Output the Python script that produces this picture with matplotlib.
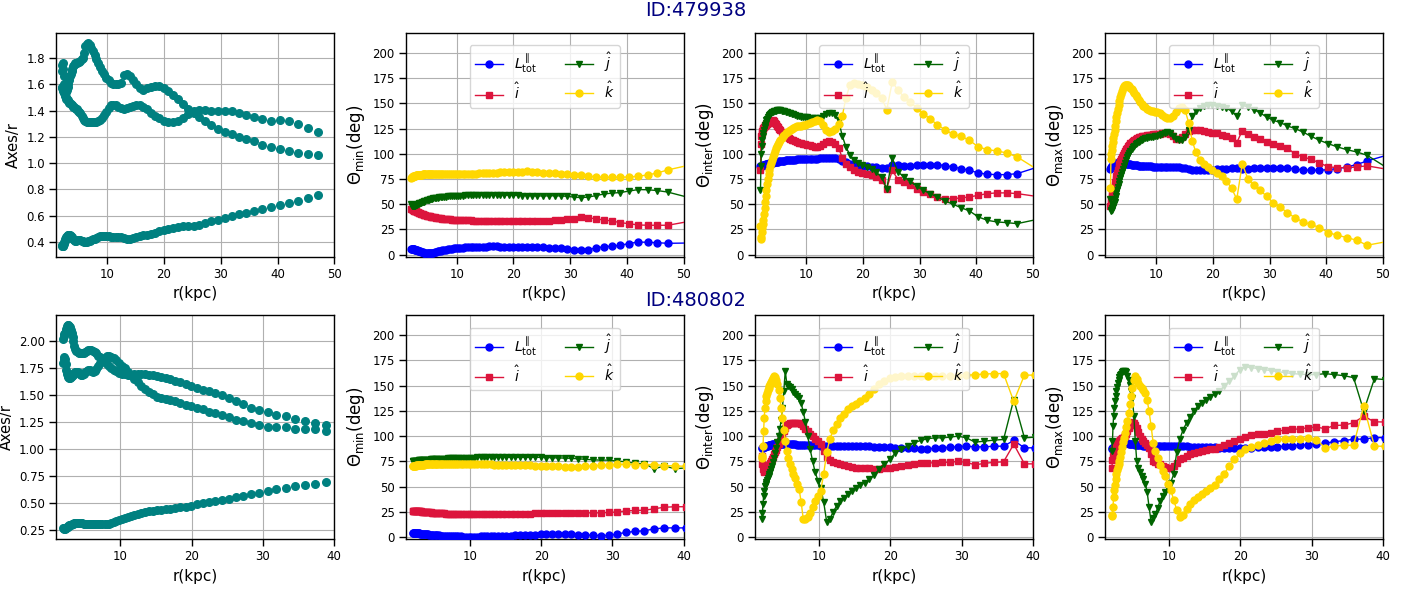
import matplotlib
matplotlib.use("Agg")
import matplotlib.pyplot as plt

# ---------------- data ----------------
R = [1.97, 2.05, 2.13, 2.21, 2.30, 2.39, 2.49, 2.59, 2.69, 2.80,
     2.91, 3.03, 3.15, 3.28, 3.41, 3.55, 3.69, 3.83, 3.99, 4.15,
     4.31, 4.49, 4.67, 4.85, 5.05, 5.25, 5.46, 5.68, 5.90, 6.14,
     6.39, 6.64, 6.91, 7.18, 7.47, 7.77, 8.08, 8.40, 8.74, 9.09,
     9.45, 9.83, 10.22, 10.63, 11.06, 11.50, 11.96, 12.44, 12.94, 13.45,
     13.99, 14.55, 15.13, 15.74, 16.37, 17.02, 17.71, 18.41, 19.15, 19.92,
     20.71, 21.54, 22.40, 23.30, 24.23, 25.20, 26.21, 27.26, 28.35, 29.48,
     30.66, 31.89, 33.16, 34.49, 35.87, 37.30, 38.80, 40.35, 41.96, 43.64,
     45.38, 47.20]
R_TOP_LINE = R + [52.0]     # last radius lies outside the plotted range
R_TOP_SCAT = R
R_BOT_LINE = R[:78]
R_BOT_SCAT = R[:77]

ids = ["ID:479938", "ID:480802"]
xlims = [50, 40]
xticks = [[10, 20, 30, 40, 50], [10, 20, 30, 40]]

# ---- galaxy 479938 ----
top_axes_a = [1.70, 1.75, 1.76, 1.72, 1.66, 1.60, 1.56, 1.55, 1.54, 1.55,
              1.56, 1.58, 1.60, 1.63, 1.66, 1.68, 1.70, 1.72, 1.74, 1.75,
              1.76, 1.76, 1.76, 1.77, 1.77, 1.78, 1.79, 1.80, 1.84, 1.89,
              1.91, 1.915, 1.90, 1.88, 1.85, 1.82, 1.79, 1.76, 1.73, 1.70,
              1.68, 1.65, 1.63, 1.61, 1.60, 1.60, 1.60, 1.61, 1.67, 1.68,
              1.66, 1.63, 1.60, 1.57, 1.56, 1.57, 1.58, 1.59, 1.585, 1.57,
              1.55, 1.52, 1.49, 1.45, 1.41, 1.38, 1.35, 1.32, 1.29, 1.26,
              1.24, 1.22, 1.20, 1.185, 1.165, 1.14, 1.12, 1.11, 1.095, 1.08,
              1.07, 1.062]
top_axes_b = [1.58, 1.57, 1.56, 1.55, 1.54, 1.53, 1.52, 1.51, 1.50, 1.49,
              1.485, 1.48, 1.47, 1.46, 1.455, 1.45, 1.445, 1.44, 1.43, 1.425,
              1.42, 1.415, 1.41, 1.40, 1.39, 1.38, 1.36, 1.345, 1.33, 1.32,
              1.315, 1.31, 1.31, 1.31, 1.315, 1.315, 1.315, 1.32, 1.33, 1.345,
              1.365, 1.39, 1.42, 1.44, 1.445, 1.44, 1.43, 1.42, 1.415, 1.42,
              1.43, 1.435, 1.44, 1.44, 1.43, 1.41, 1.385, 1.36, 1.34, 1.32,
              1.31, 1.31, 1.32, 1.34, 1.37, 1.395, 1.405, 1.405, 1.40, 1.40,
              1.40, 1.395, 1.385, 1.365, 1.35, 1.335, 1.32, 1.325, 1.32, 1.30,
              1.27, 1.24]
top_axes_c = [0.375, 0.37, 0.365, 0.37, 0.385, 0.40, 0.41, 0.42, 0.43, 0.44,
              0.448, 0.452, 0.455, 0.455, 0.452, 0.445, 0.438, 0.43, 0.42, 0.413,
              0.41, 0.41, 0.412, 0.415, 0.415, 0.413, 0.41, 0.405, 0.40, 0.40,
              0.40, 0.403, 0.408, 0.413, 0.418, 0.425, 0.432, 0.437, 0.442, 0.444,
              0.445, 0.445, 0.443, 0.44, 0.44, 0.44, 0.44, 0.435, 0.428, 0.422,
              0.425, 0.432, 0.44, 0.445, 0.45, 0.455, 0.462, 0.47, 0.48, 0.49,
              0.50, 0.508, 0.514, 0.518, 0.52, 0.522, 0.53, 0.545, 0.558, 0.57,
              0.583, 0.595, 0.61, 0.62, 0.635, 0.65, 0.668, 0.68, 0.693, 0.713,
              0.736, 0.76]

top_min_L = [5.5, 5.5, 5.5, 5.5, 5.4, 5.3, 5.2, 5.0, 4.8, 4.6,
             4.4, 4.2, 4.0, 3.7, 3.4, 3.1, 2.8, 2.5, 2.2, 2.0,
             1.8, 1.7, 1.6, 1.6, 1.6, 1.6, 1.7, 1.8, 2.0, 2.3,
             2.7, 3.1, 3.5, 3.9, 4.3, 4.6, 5.0, 5.3, 5.6, 5.9,
             6.1, 6.4, 6.6, 6.8, 7.0, 7.2, 7.4, 7.6, 7.7, 7.8,
             7.9, 8.0, 8.0, 8.1, 8.1, 8.1, 8.0, 8.0, 8.0, 7.9,
             7.9, 7.8, 7.7, 7.6, 7.4, 7.1, 6.8, 6.5, 6.2, 5.6,
             4.7, 4.4, 5.0, 6.5, 7.8, 8.4, 9.2, 11.0, 12.5, 12.2,
             11.8, 11.2, 11.6]
top_min_i = [45, 45, 44.8, 44.5, 44.2, 44, 43.7, 43.4, 43.1, 42.8,
             42.5, 42.2, 42, 41.6, 41.3, 41, 40.6, 40.3, 40, 39.6,
             39.3, 39, 38.7, 38.4, 38, 37.8, 37.5, 37.2, 37, 36.8,
             36.6, 36.4, 36.2, 36, 35.8, 35.6, 35.4, 35.2, 35, 34.8,
             34.6, 34.5, 34.4, 34.3, 34.2, 34.1, 34, 33.9, 33.8, 33.7,
             33.6, 33.5, 33.5, 33.4, 33.4, 33.4, 33.4, 33.4, 33.4, 33.4,
             33.4, 33.4, 33.5, 33.5, 33.6, 33.7, 33.8, 34, 34.3, 35,
             35.7, 37, 36.7, 35.4, 34.4, 33.4, 31.7, 30.7, 29.4, 29.1,
             29.1, 29.1, 34]
top_min_j = [50, 49, 48.5, 48, 48, 48, 48.5, 48.5, 49, 49,
             49.5, 50, 50, 50.5, 51, 51, 51.5, 52, 52.5, 52.5,
             53, 53.5, 54, 54.5, 54.5, 55, 55.5, 55.5, 56, 56,
             56.5, 56.5, 57, 57, 57.2, 57.4, 57.6, 57.8, 58, 58,
             58.2, 58.3, 58.4, 58.5, 58.6, 58.7, 58.8, 58.9, 59, 59,
             59, 59, 59, 59, 59, 59, 59, 59, 59, 58.8,
             58.7, 58.6, 58.5, 58.4, 58.2, 58.2, 58.3, 58.4, 58.2, 57.8,
             57, 56.5, 57, 58.5, 60, 61, 61.5, 63, 64.5, 64.3,
             63.5, 62, 55]
top_min_k = [76, 76.5, 77, 77, 77.5, 77.5, 78, 78, 78, 78.5,
             78.5, 78.5, 79, 79, 79, 79, 79, 79, 79.5, 79.5,
             79.5, 79.5, 79.5, 79.5, 80, 80, 80, 80, 80, 80,
             80, 80, 80, 80, 80, 80, 80, 79.8, 79.7, 79.6,
             79.5, 79.5, 79.5, 79.6, 79.7, 79.8, 80, 80, 80.2, 80.3,
             80.5, 80.6, 80.8, 81, 81.2, 81.4, 81.5, 81.7, 82, 82,
             82, 82.3, 82.6, 82, 81.7, 81.3, 81, 81, 80.3, 79.7,
             79.3, 78.7, 78, 77, 76.7, 76.7, 76.7, 77, 77.7, 79,
             81, 84, 90]

top_int_L = [88, 88, 88, 88, 88.2, 88.4, 88.6, 88.8, 89, 89.2,
             89.4, 89.6, 89.8, 90, 90.2, 90.4, 90.6, 90.8, 91, 91.2,
             91.4, 91.6, 91.8, 92, 92.2, 92.4, 92.6, 92.8, 93, 93.2,
             93.4, 93.6, 93.8, 94, 94.1, 94.2, 94.3, 94.4, 94.5, 94.6,
             94.7, 94.8, 94.9, 95, 95.1, 95.2, 95.3, 95.4, 95.5, 95.6,
             95.7, 95.8, 95.5, 94.5, 93, 91.5, 90.2, 89.5, 88.8, 88.3,
             87.8, 87.2, 86.6, 86.2, 85.8, 88.8, 88.5, 88, 88, 88.5,
             89.2, 89.3, 89.3, 88.3, 87, 85.3, 83.6, 81, 79.7, 79.3,
             79.3, 80.3, 88.9]
top_int_i = [84, 110, 118, 121, 123, 124.5, 125.5, 126.5, 127.5, 128.5,
             129, 129.5, 130, 130.5, 131, 131.5, 132, 132.5, 132.8, 133,
             132.5, 131, 129.5, 128, 126.5, 125, 123.5, 122, 120.5, 119,
             118, 117, 116, 115, 114, 113.2, 112.5, 111.7, 111, 110.5,
             110, 109.5, 109, 108.2, 107.5, 107, 106.8, 107.5, 109.5, 111.5,
             112.7, 112, 110, 106, 96, 90, 86.5, 83.5, 81.5, 80.5,
             79.7, 78.5, 76.5, 74, 65.5, 83.5, 74.4, 72, 69.4, 65.5,
             62, 60.5, 57.2, 55.5, 55.5, 56.2, 57.2, 58.8, 60.5, 61.2,
             61.2, 60.5, 56.6]
top_int_j = [64, 88, 100, 108, 114, 118, 121, 124, 126.5, 129,
             131, 133, 134.5, 136, 137.5, 138.5, 139.5, 140.3, 141, 141.6,
             142, 142.4, 142.7, 143, 143, 143, 143, 142.8, 142.5, 142.2,
             141.8, 141.3, 140.8, 140.2, 139.6, 139, 138.4, 137.8, 137.3, 136.9,
             136.5, 136.2, 136, 135.8, 135.5, 135.2, 135, 135.5, 137.5, 139.5,
             140.5, 140.3, 138.5, 133, 118, 107, 99, 94, 91, 89,
             87, 85, 81.5, 77, 65.5, 95.5, 82, 77, 72.7, 67.8,
             63.8, 60.5, 57.2, 53.2, 50, 46.6, 43.3, 37.4, 34, 32.4,
             31.7, 30.7, 36.4]
top_int_k = [28, 15, 17, 22, 26, 30, 34, 40, 46, 52,
             58, 64, 70, 75, 80, 84, 88, 91, 94, 97,
             100, 103, 105.5, 108, 110, 112, 114, 116, 117.5, 119,
             120.5, 121.8, 123, 124, 125, 126, 126.7, 127.3, 127.7, 128,
             128.3, 128.7, 129.3, 130.3, 131.5, 132.7, 133, 132, 128.5, 124,
             122, 122.5, 125, 129.5, 137, 155, 168, 170.2, 169.5, 168.3,
             166.5, 163.5, 160, 155.5, 143.8, 171.2, 163, 156.4, 151.4, 145.8,
             139.2, 134.9, 128.3, 124, 119.3, 117.4, 113.4, 106.8, 104.1, 102.8,
             100.8, 96.9, 80]

top_max_L = [85, 86, 87, 87.5, 88, 88.5, 89, 89.3, 89.6, 90,
             90.3, 90.6, 90.8, 91, 91.2, 91.3, 91.3, 91.2, 91, 90.8,
             90.6, 90.4, 90.2, 90, 89.8, 89.6, 89.4, 89.2, 89, 88.8,
             88.6, 88.4, 88.2, 88, 87.9, 87.8, 87.7, 87.6, 87.5, 87.4,
             87.3, 87.2, 87.1, 87, 87, 86.9, 86.8, 86.7, 86.6, 86.5,
             86.4, 86, 85.4, 84.6, 83.9, 83.6, 83.6, 83.8, 84, 84.3,
             84.6, 84.8, 85, 85.5, 86, 85, 85.3, 85.5, 85.8, 86,
             86.3, 86.3, 86, 84.8, 84, 83.8, 83.6, 84.3, 85.3, 87,
             89.3, 92.9, 100.7]
top_max_i = [48, 52, 55, 58, 60, 62, 64, 66.5, 69, 72,
             75, 78, 81, 84, 87, 90, 92.5, 95, 97, 99,
             101, 103, 104.5, 106, 107.5, 109, 110.5, 111.7, 112.8, 113.8,
             114.7, 115.5, 116.2, 116.8, 117.3, 117.7, 118.1, 118.4, 118.7, 119,
             119.2, 119.4, 119.6, 119.8, 120.2, 120.6, 121, 120, 117.5, 115,
             115, 116.5, 119.5, 122.5, 124, 124, 123.3, 122.5, 121.8, 121,
             120.2, 119, 117.5, 115.5, 111, 123, 120, 117, 115, 111.5,
             110, 108, 106, 99.5, 97, 94.5, 91, 87, 86.3, 86,
             87, 88, 83.4]
top_max_j = [55, 44, 43, 44, 46, 47.5, 49, 50.5, 52, 55,
             58, 61, 64, 67, 70, 73, 76, 79, 82, 85,
             88, 91, 94, 96.5, 99, 101, 103, 104.8, 106.5, 108,
             109.5, 110.8, 112, 113, 114, 114.7, 115.3, 115.8, 116.2, 116.6,
             117, 117.4, 117.8, 118.4, 119.2, 120.2, 121.2, 121, 118, 115,
             113.5, 114, 117, 124, 137, 142, 145, 147, 148, 148,
             147.5, 146.5, 145, 142.5, 137.5, 148, 146.4, 143.8, 140.5, 136.5,
             133.2, 131, 127.6, 125, 121.6, 117.4, 113.4, 110, 106.8, 104,
             101.8, 98.5, 81.5]
top_max_k = [66, 95, 100, 104, 108, 112, 116, 120, 124, 128,
             132, 136, 140, 144, 148, 152, 156, 159.5, 162.5, 165,
             167, 168, 168.5, 168.5, 168, 167, 165.5, 164, 162, 160,
             158, 156, 153.5, 151.5, 149.5, 147.5, 146, 144.5, 143.5, 142.8,
             142.2, 141.7, 141.2, 140, 138, 136.5, 135.5, 135.5, 137.5, 141.5,
             145, 146, 143, 131, 113, 101.5, 93.5, 89.5, 86.5, 83.5,
             81, 78, 73, 66, 55, 90.2, 74.7, 68.8, 63.8, 57.9,
             51.2, 47.3, 41.3, 36.7, 32.4, 30, 26.8, 21.8, 19.2, 16.9,
             14.2, 9.3, 14.3]

# ---- galaxy 480802 ----
bot_axes_a = [2.02, 2.05, 2.07, 2.08, 2.10, 2.12, 2.14, 2.15, 2.15, 2.14,
              2.13, 2.11, 2.08, 2.04, 2.00, 1.96, 1.93, 1.91, 1.90, 1.895,
              1.89, 1.89, 1.89, 1.895, 1.90, 1.91, 1.92, 1.925, 1.92, 1.91,
              1.90, 1.89, 1.87, 1.855, 1.835, 1.815, 1.795, 1.775, 1.755, 1.74,
              1.725, 1.71, 1.70, 1.695, 1.69, 1.69, 1.695, 1.70, 1.70, 1.695,
              1.69, 1.685, 1.68, 1.67, 1.66, 1.65, 1.635, 1.62, 1.605, 1.59,
              1.57, 1.555, 1.54, 1.525, 1.505, 1.475, 1.45, 1.42, 1.385, 1.365,
              1.345, 1.32, 1.305, 1.285, 1.26, 1.245, 1.23]
bot_axes_b = [1.80, 1.84, 1.86, 1.84, 1.79, 1.74, 1.70, 1.68, 1.67, 1.665,
              1.665, 1.67, 1.68, 1.69, 1.70, 1.71, 1.715, 1.72, 1.715, 1.705,
              1.695, 1.69, 1.69, 1.70, 1.715, 1.73, 1.74, 1.735, 1.725, 1.72,
              1.73, 1.745, 1.77, 1.80, 1.83, 1.85, 1.865, 1.87, 1.86, 1.845,
              1.825, 1.80, 1.775, 1.75, 1.72, 1.69, 1.655, 1.62, 1.59, 1.56,
              1.535, 1.51, 1.49, 1.475, 1.465, 1.455, 1.445, 1.43, 1.415, 1.40,
              1.385, 1.37, 1.35, 1.335, 1.32, 1.30, 1.275, 1.26, 1.245, 1.23,
              1.205, 1.205, 1.205, 1.19, 1.19, 1.19, 1.175]
bot_axes_c = [0.275, 0.27, 0.264, 0.265, 0.27, 0.275, 0.28, 0.285, 0.29, 0.295,
              0.30, 0.303, 0.306, 0.309, 0.312, 0.315, 0.318, 0.32, 0.321, 0.321,
              0.32, 0.318, 0.315, 0.312, 0.31, 0.308, 0.307, 0.307, 0.308, 0.309,
              0.31, 0.311, 0.311, 0.31, 0.309, 0.308, 0.31, 0.313, 0.318, 0.326,
              0.335, 0.345, 0.355, 0.363, 0.372, 0.382, 0.392, 0.402, 0.41, 0.418,
              0.426, 0.432, 0.437, 0.441, 0.445, 0.45, 0.456, 0.463, 0.47, 0.48,
              0.49, 0.50, 0.51, 0.52, 0.53, 0.54, 0.555, 0.57, 0.587, 0.60,
              0.618, 0.634, 0.646, 0.66, 0.67, 0.68, 0.70]

bot_min_L = [3.5, 3.5, 3.6, 3.6, 3.6, 3.6, 3.6, 3.6, 3.6, 3.5,
             3.5, 3.4, 3.3, 3.2, 3.1, 3.0, 2.9, 2.8, 2.7, 2.6,
             2.4, 2.2, 2.0, 1.9, 1.8, 1.7, 1.6, 1.5, 1.4, 1.3,
             1.2, 1.1, 1.0, 0.9, 0.8, 0.7, 0.6, 0.5, 0.5, 0.4,
             0.4, 0.4, 0.4, 0.4, 0.4, 0.5, 0.5, 0.6, 0.7, 0.8,
             0.9, 1.0, 1.2, 1.4, 1.6, 1.8, 2.0, 2.2, 2.4, 2.6,
             2.8, 3.0, 3.0, 3.0, 2.8, 2.4, 2.0, 1.6, 1.4, 1.5,
             3.0, 4.5, 5.5, 6.2, 8.0, 9.0, 9.0, 9.0]
bot_min_i = [25.5, 25.5, 25.5, 25.5, 25.5, 25.5, 25.5, 25.5, 25.5, 25.4,
             25.4, 25.3, 25.3, 25.2, 25.1, 25, 24.9, 24.8, 24.6, 24.5,
             24.4, 24.3, 24.1, 24, 23.9, 23.8, 23.7, 23.6, 23.5, 23.4,
             23.3, 23.2, 23.1, 23, 22.9, 22.8, 22.7, 22.6, 22.5, 22.5,
             22.4, 22.4, 22.3, 22.3, 22.3, 22.3, 22.3, 22.3, 22.4, 22.4,
             22.5, 22.6, 22.7, 22.8, 22.9, 23, 23.1, 23.2, 23.3, 23.5,
             23.6, 23.7, 23.8, 23.9, 24, 24, 24, 23.8, 24, 24.3,
             24.8, 25.8, 26.3, 26.5, 28, 29.5, 30, 30]
bot_min_j = [75.5, 75.5, 75.5, 75.6, 75.6, 75.7, 75.7, 75.8, 75.8, 75.9,
             76, 76, 76.1, 76.2, 76.3, 76.4, 76.5, 76.5, 76.6, 76.7,
             76.8, 76.9, 77, 77, 77.1, 77.2, 77.3, 77.4, 77.5, 77.6,
             77.7, 77.8, 77.9, 78, 78, 78.1, 78.2, 78.3, 78.4, 78.5,
             78.5, 78.6, 78.7, 78.8, 78.9, 79, 79, 79, 79, 79,
             79, 79, 79, 79, 79, 79, 79, 79, 79, 79,
             78.8, 78.6, 78.4, 78.2, 78, 77.5, 77, 76.5, 76.2, 76.2,
             75.2, 74.6, 73, 72.6, 67.7, 70.3, 67.7, 68.5]
bot_min_k = [70.3, 70.4, 70.5, 70.6, 70.7, 70.8, 70.9, 71, 71.1, 71.2,
             71.3, 71.4, 71.5, 71.6, 71.7, 71.8, 71.9, 72, 72, 72.1,
             72.2, 72.3, 72.4, 72.4, 72.5, 72.5, 72.6, 72.6, 72.7, 72.7,
             72.8, 72.8, 72.8, 72.8, 72.8, 72.8, 72.8, 72.8, 72.7, 72.7,
             72.6, 72.6, 72.5, 72.4, 72.3, 72.2, 72.1, 72, 71.9, 71.8,
             71.7, 71.6, 71.5, 71.4, 71.3, 71.2, 71.1, 71, 70.8, 70.6,
             70.4, 70.2, 70, 69.8, 69.6, 69.7, 70, 70.5, 71, 71.5,
             72, 72, 71.8, 71.8, 71.8, 70.8, 70.5, 70]

bot_int_L = [88, 88.3, 88.6, 88.9, 89.2, 89.5, 89.8, 90.1, 90.4, 90.7,
             91, 91.3, 91.5, 91.7, 91.9, 92, 92.1, 92.2, 92.3, 92.4,
             92.5, 92.5, 92.5, 92.5, 92.5, 92.4, 92.3, 92.2, 92.1, 92,
             91.9, 91.8, 91.7, 91.6, 91.5, 91.4, 91.3, 91.2, 91.1, 91,
             90.9, 90.8, 90.7, 90.6, 90.5, 90.5, 90.5, 90.5, 90.5, 90.5,
             90.5, 90.4, 90.3, 90.2, 90, 89.8, 89.6, 89.4, 89.1, 88.8,
             88.4, 88.2, 88, 87.8, 87.6, 87.5, 87.8, 88.4, 89, 89.5,
             90, 89.4, 89.4, 90, 90, 95.7, 88.4, 88.4]
bot_int_i = [80, 72, 67, 65, 64.5, 65, 65.5, 66, 67, 68,
             69, 71, 73, 75, 77, 79.5, 82, 84, 86, 89,
             92, 95, 98, 101, 105, 108.5, 111, 112.5, 113, 113.5,
             113.5, 113.5, 113.5, 113, 112, 110, 107.5, 105, 102.5, 100,
             97.5, 95, 92.5, 85, 79, 76.5, 74, 73, 72, 71,
             70, 69.3, 68.6, 68.2, 68, 68, 67.8, 67.8, 68, 68.5,
             69, 70, 71, 72, 73, 73.5, 73.5, 74, 74, 75,
             74, 71.5, 73, 74, 74.5, 92, 72.5, 72.5]
bot_int_j = [17.5, 24, 33, 40.6, 46, 50.5, 53, 55, 56.5, 58.5,
             60.5, 62.5, 64.5, 67.5, 70.5, 74, 78, 83, 88.5, 94,
             100, 107, 116, 128, 145, 165, 152, 150, 148.5, 147,
             144, 141.5, 140, 137.5, 133, 124, 114, 100, 87, 75,
             64, 56, 49, 35, 15, 17.5, 25, 30.5, 35.5, 39,
             42.2, 45.5, 48.8, 51.2, 53.8, 57, 61.4, 67, 72, 77,
             83.5, 86.8, 90, 93.4, 95.7, 97.4, 98.3, 98.3, 99, 100,
             98.3, 94, 95, 96, 96.7, 136.3, 98.3, 99]
bot_int_k = [80, 78, 90, 105, 118, 128, 135, 140, 143, 146,
             148, 150, 152, 154, 156, 158, 160, 159, 156, 152,
             146, 138, 128, 118, 106, 95, 85, 78, 72, 67,
             62, 58, 53, 48, 35, 18, 18, 20, 24, 30,
             36, 41, 46, 62, 84, 97, 106, 112, 118, 122,
             127, 130, 132, 135, 138, 142, 147, 151.5, 155, 158,
             159, 159.5, 159.5, 159.5, 159.5, 159.5, 159.5, 159.5, 159.7, 160,
             160.3, 161, 161.5, 162, 162, 134.5, 160.5, 160.5]

bot_max_L = [87.5, 88, 88.5, 89, 89.5, 90, 90.5, 91, 91.5, 92,
             92.5, 92.8, 93, 93.2, 93.4, 93.4, 93.3, 93.2, 93, 92.8,
             92.6, 92.4, 92.2, 92, 91.8, 91.6, 91.4, 91.2, 91, 90.8,
             90.6, 90.4, 90.3, 90.2, 90.1, 90, 90, 90, 90, 90,
             90, 90, 90, 90, 90, 90, 89.9, 89.8, 89.7, 89.6,
             89.5, 89.4, 89.3, 89.1, 88.9, 88.7, 88.5, 88.3, 88.1, 88,
             88.2, 88.5, 88.8, 89, 89.5, 89.7, 90, 90.5, 91, 91.5,
             92, 93, 94.5, 95.5, 97, 97, 98.5, 98.5]
bot_max_i = [68.6, 76, 80, 84, 87, 89, 91, 92.5, 93.5, 94.5,
             95, 95.5, 96, 97, 98, 98.5, 99.5, 100.5, 102.5, 105,
             108, 111, 113, 114, 113.5, 111.5, 108.5, 104.5, 100, 97.5,
             95.5, 93.5, 91, 88, 82, 75.5, 74, 72.8, 72, 70.8,
             69.5, 68.5, 68, 70.3, 73.6, 76.9, 78.5, 80.2, 81.8, 83.5,
             84.5, 85.1, 86.1, 86.8, 87.5, 89.4, 90.8, 92.7, 95, 97.4,
             99.3, 100.7, 101.7, 102.6, 103.3, 105, 106, 106.6, 107.3, 108.3,
             109, 107.3, 110.6, 110.9, 113.2, 119.8, 114.2, 114]
bot_max_j = [85, 95, 110, 120, 128, 135, 140, 145, 149, 153,
             156, 158.5, 160.5, 162, 163.5, 164.5, 165, 165, 164, 160,
             156, 151, 145, 138, 120, 95, 75, 68, 64, 60,
             57, 53, 45, 30, 15, 19, 23, 29, 36, 41,
             45, 49, 54, 62, 84, 97, 106.5, 113, 119, 124.5,
             129.5, 132.5, 135.5, 139, 141.3, 144.6, 149.5, 154.5, 159.4, 166,
             168.6, 168, 167, 166, 165, 164, 163, 162, 161.5, 161,
             161, 162, 161, 160, 158, 125, 157, 156]
bot_max_k = [22, 21, 30, 40, 47, 52, 57, 62, 66, 69,
             72, 75, 79, 84, 89, 94, 98, 103, 109, 115,
             123, 132, 140, 148, 156, 159.5, 157, 153, 150, 148,
             146, 143, 136, 125, 110, 93, 85, 78, 71, 65,
             60, 53, 47, 37, 27, 19.5, 22, 27.5, 32.5, 36.5,
             40, 43, 45.5, 48.5, 52, 57, 62.5, 70, 77, 83,
             86.8, 89, 91, 93.3, 95, 96.7, 97.4, 97.4, 96.7, 97.7,
             96.5, 88.4, 90, 90.8, 91, 129.7, 90, 90]

# ---------------- styling ----------------
series_labels = [r'$L^{\parallel}_{\rm tot}$', r'$\hat{i}$', r'$\hat{j}$', r'$\hat{k}$']
series_colors = ['#0000ff', '#dc143c', '#006400', '#ffd700']
series_markers = ['o', 's', 'v', 'o']
theta_names = [r'$\Theta_{\rm min}$(deg)', r'$\Theta_{\rm inter}$(deg)', r'$\Theta_{\rm max}$(deg)']

rows = [
    dict(rl=R_TOP_LINE, rs=R_TOP_SCAT, axes=[top_axes_a, top_axes_b, top_axes_c],
         theta=[[top_min_L, top_min_i, top_min_j, top_min_k],
                [top_int_L, top_int_i, top_int_j, top_int_k],
                [top_max_L, top_max_i, top_max_j, top_max_k]]),
    dict(rl=R_BOT_LINE, rs=R_BOT_SCAT, axes=[bot_axes_a, bot_axes_b, bot_axes_c],
         theta=[[bot_min_L, bot_min_i, bot_min_j, bot_min_k],
                [bot_int_L, bot_int_i, bot_int_j, bot_int_k],
                [bot_max_L, bot_max_i, bot_max_j, bot_max_k]]),
]

fig = plt.figure(figsize=(14.17, 5.89), dpi=100)
lefts = [0.0397, 0.2863, 0.5328, 0.7798]
bottoms = [0.5643, 0.0849]
W, H = 0.1962, 0.3801
title_y = [0.983, 0.489]


def style(ax, xmax, ticks):
    ax.set_xlim(1, xmax)
    ax.set_xticks(ticks)
    ax.grid(True, color='#b0b0b0', lw=0.8)
    ax.tick_params(length=5, width=1, labelsize=8.5, pad=3)
    ax.set_xlabel('r(kpc)', fontsize=11)
    for s in ax.spines.values():
        s.set_linewidth(1.0)


for ri, row in enumerate(rows):
    xmax = xlims[ri]
    ax = fig.add_axes([lefts[0], bottoms[ri], W, H])
    for arr in row['axes']:
        n = min(len(arr), len(row['rs']))
        ax.scatter(row['rs'][:n], arr[:n], s=30, color='#008080', zorder=3)
    style(ax, xmax, xticks[ri])
    ax.set_ylabel('Axes/r', fontsize=10.5)
    for ci in range(3):
        ax = fig.add_axes([lefts[ci + 1], bottoms[ri], W, H])
        for si, arr in enumerate(row['theta'][ci]):
            n = min(len(arr), len(row['rl']))
            ax.plot(row['rl'][:n], arr[:n], color=series_colors[si],
                    marker=series_markers[si], ms=5, lw=1.0,
                    label=series_labels[si], zorder=3)
        style(ax, xmax, xticks[ri])
        ax.set_ylim(-2, 220)
        ax.set_yticks([0, 25, 50, 75, 100, 125, 150, 175, 200])
        ax.set_ylabel(theta_names[ci], fontsize=12)
        ax.legend(loc='upper center', bbox_to_anchor=(0.5, 0.975), ncol=2, fontsize=10)
    fig.text(0.491, title_y[ri], ids[ri], ha='center', va='center',
             fontsize=14, color='navy')

fig.savefig('out.png', dpi=100)
